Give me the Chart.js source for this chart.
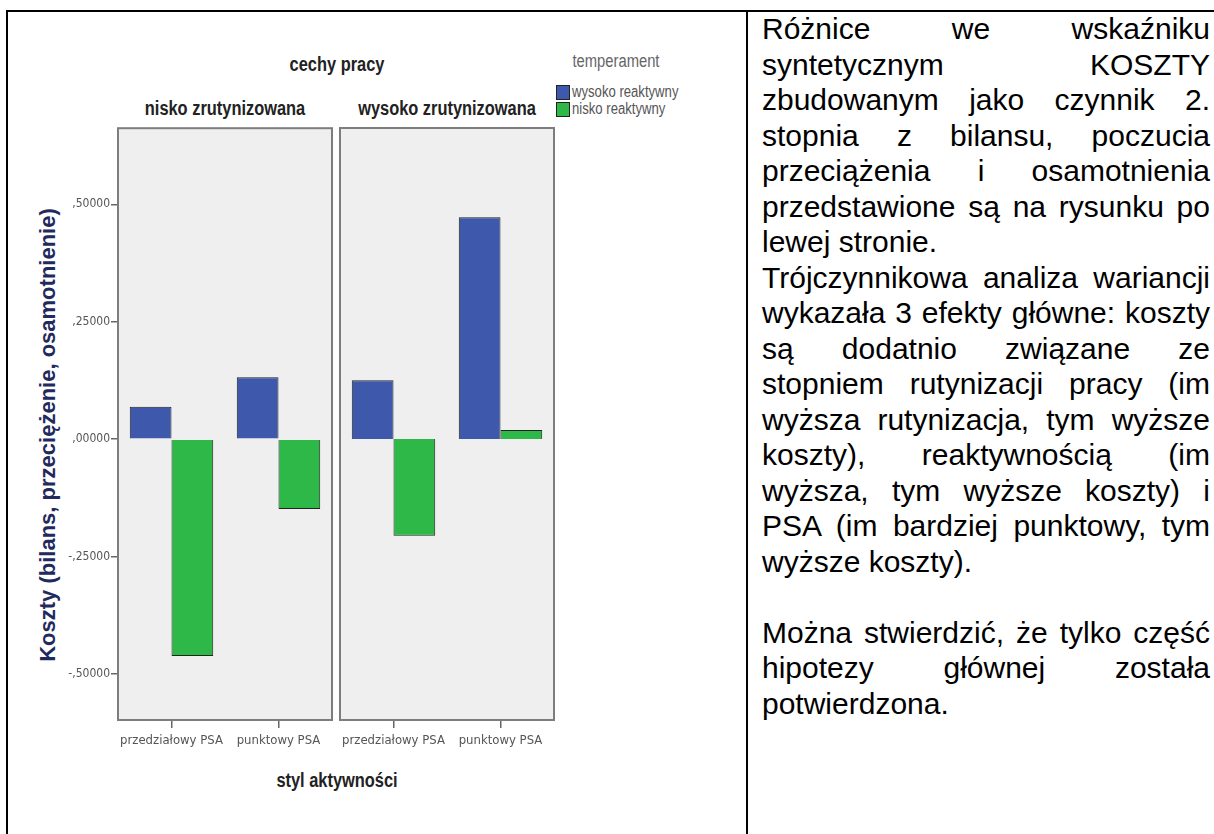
<!DOCTYPE html>
<html>
<head>
<meta charset="utf-8">
<script src="https://cdn.jsdelivr.net/npm/chart.js@4.4.1/dist/chart.umd.min.js"></script>
<style>
  body { margin: 0; background: #fff; width: 1214px; height: 834px; overflow: hidden; position: relative; }
  .line-h { position: absolute; background: #000; }
  canvas { position: absolute; }
  .lbl { position: absolute; white-space: nowrap; font-family: 'Liberation Sans', Arial, sans-serif; }
  .bold { font-weight: bold; color: #222; font-size: 20px; }
  .c { transform: translate(-50%, -50%) scaleX(0.82); }
  .l { transform-origin: 0 50%; transform: translateY(-50%) scaleX(0.82); }
  #ytitle { position: absolute; left: 48px; top: 435px; transform: translate(-50%, -50%) rotate(-90deg);
            font: bold 22px 'Liberation Sans', sans-serif; color: #1f2a5e; white-space: nowrap; }
  .swatch { position: absolute; width: 12px; height: 13px; border: 1px solid #222; }
  #text { position: absolute; left: 762px; top: 11px; width: 448px; font: 30px 'Liberation Sans', Arial, sans-serif;
          line-height: 35.5px; color: #000; }
  #text div { white-space: nowrap; }
  #text .j { text-align: justify; text-align-last: justify; white-space: normal; }
</style>
</head>
<body>
<div class="line-h" style="left:6px; top:10px; width:1208px; height:2px;"></div>
<div class="line-h" style="left:6px; top:10px; width:2px; height:824px;"></div>
<div class="line-h" style="left:746px; top:10px; width:2px; height:824px;"></div>

<div class="lbl bold c" style="left:337px; top:64px;">cechy pracy</div>
<div class="lbl bold c" style="left:225px; top:108px;">nisko zrutynizowana</div>
<div class="lbl bold c" style="left:447px; top:108px;">wysoko zrutynizowana</div>
<div class="lbl bold c" style="left:337px; top:780px;">styl aktywności</div>
<div id="ytitle">Koszty (bilans, przeciężenie, osamotnienie)</div>

<div class="lbl c" style="left:616px; top:61px; font-size:18px; color:#666;">temperament</div>
<div class="swatch" style="left:556px; top:85px; background:#3e58ac;"></div>
<div class="swatch" style="left:556px; top:102px; background:#2eb848;"></div>
<div class="lbl l" id="leg0" style="left:572px; top:92px; font-size:16px; color:#555;"></div>
<div class="lbl l" id="leg1" style="left:572px; top:109px; font-size:16px; color:#555;"></div>

<canvas id="panel1" width="320" height="680" style="left:20px; top:120px;"></canvas>
<canvas id="panel2" width="252" height="680" style="left:310px; top:120px;"></canvas>

<div id="text">
  <div class="j">Różnice we wskaźniku</div>
  <div class="j">syntetycznym KOSZTY</div>
  <div class="j">zbudowanym jako czynnik 2.</div>
  <div class="j">stopnia z bilansu, poczucia</div>
  <div class="j">przeciążenia i osamotnienia</div>
  <div class="j">przedstawione są na rysunku po</div>
  <div>lewej stronie.</div>
  <div class="j">Trójczynnikowa analiza wariancji</div>
  <div class="j">wykazała 3 efekty główne: koszty</div>
  <div class="j">są dodatnio związane ze</div>
  <div class="j">stopniem rutynizacji pracy (im</div>
  <div class="j">wyższa rutynizacja, tym wyższe</div>
  <div class="j">koszty), reaktywnością (im</div>
  <div class="j">wyższa, tym wyższe koszty) i</div>
  <div class="j">PSA (im bardziej punktowy, tym</div>
  <div>wyższe koszty).</div>
  <div>&nbsp;</div>
  <div class="j">Można stwierdzić, że tylko część</div>
  <div class="j">hipotezy głównej została</div>
  <div>potwierdzona.</div>
</div>

<script>
// categories and series
const styles = ['przedziałowy PSA', 'punktowy PSA'];
const temperament = ['wysoko reaktywny', 'nisko reaktywny'];

// panel "nisko zrutynizowana"
const niskoRutynaWysokoReakt = [0.069, 0.132];
const niskoRutynaNiskoReakt = [-0.462, -0.149];

// panel "wysoko zrutynizowana"
const wysokoRutynaWysokoReakt = [0.125, 0.472];
const wysokoRutynaNiskoReakt = [-0.206, 0.019];

// y axis
const yTicks = [-0.5, -0.25, 0, 0.25, 0.5];
const yMin = -0.598;
const yMax = 0.662;

Chart.defaults.font.family = "'DejaVu Sans Condensed', 'Liberation Sans', sans-serif";

document.getElementById('leg0').textContent = temperament[0];
document.getElementById('leg1').textContent = temperament[1];

// SPSS style number: ,50000 / -,25000
function spssNumber(v) {
  const s = Math.abs(v).toFixed(5).split('.')[1];
  return (v < 0 ? '-' : '') + ',' + s;
}

// grey panel background and frame
const panelFrame = {
  id: 'panelFrame',
  beforeDatasetsDraw(chart) {
    const { ctx, chartArea: a } = chart;
    ctx.save();
    ctx.fillStyle = '#efefef';
    ctx.fillRect(a.left, a.top, a.width, a.height);
    ctx.restore();
  },
  afterDatasetsDraw(chart) {
    const { ctx, chartArea: a } = chart;
    ctx.save();
    ctx.strokeStyle = '#7d7d7d';
    ctx.lineWidth = 2;
    ctx.strokeRect(a.left, a.top, a.width, a.height);
    ctx.restore();
  },
};

function makePanel(id, blueData, greenData, showY) {
  return new Chart(document.getElementById(id), {
    type: 'bar',
    data: {
      labels: styles,
      datasets: [
        { label: temperament[0], data: blueData, backgroundColor: '#3e58ac', borderColor: '#222', borderWidth: 1 },
        { label: temperament[1], data: greenData, backgroundColor: '#2eb848', borderColor: '#222', borderWidth: 1 },
      ],
    },
    options: {
      responsive: false,
      animation: false,
      layout: { padding: { top: 8, right: 8, left: showY ? 0 : 30, bottom: 0 } },
      datasets: { bar: { categoryPercentage: 0.78, barPercentage: 1 } },
      plugins: { legend: { display: false }, tooltip: { enabled: false } },
      scales: {
        x: {
          grid: { offset: false, drawOnChartArea: false, tickLength: 8, color: '#666', lineWidth: 1.5 },
          border: { display: false },
          ticks: { autoSkip: false, maxRotation: 0, padding: 5, color: '#555', font: { size: 13 } },
          afterFit: (s) => { s.height = 80; },
        },
        y: {
          display: showY,
          min: yMin,
          max: yMax,
          afterBuildTicks: (s) => { s.ticks = yTicks.map((v) => ({ value: v })); },
          grid: { drawOnChartArea: false, tickLength: 7, color: '#666', lineWidth: 1.5 },
          border: { display: false },
          ticks: { padding: 1, color: '#555', font: { size: 12 }, callback: (v) => spssNumber(v) },
          afterFit: (s) => { s.width = showY ? 98 : 0; },
        },
      },
    },
    plugins: [panelFrame],
  });
}

makePanel('panel1', niskoRutynaWysokoReakt, niskoRutynaNiskoReakt, true);
makePanel('panel2', wysokoRutynaWysokoReakt, wysokoRutynaNiskoReakt, false);
</script>
</body>
</html>
